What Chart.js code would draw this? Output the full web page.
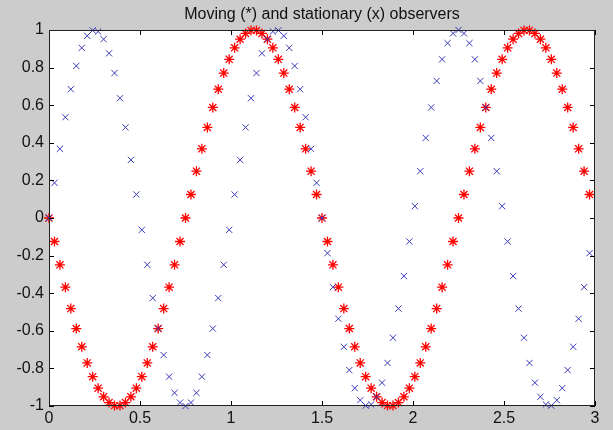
<!DOCTYPE html>
<html><head><meta charset="utf-8">
<script src="https://cdn.jsdelivr.net/npm/chart.js@4.4.0/dist/chart.umd.min.js"></script>
<style>html,body{margin:0;padding:0;background:#cccccc;overflow:hidden}#c{display:block}</style>
</head><body>
<canvas id="c" width="613" height="430"></canvas>
<script>
const times = [
0,0.03,0.06,0.09,0.12,0.15,0.18,0.21,0.24,0.27,
0.3,0.33,0.36,0.39,0.42,0.45,0.48,0.51,0.54,0.57,
0.6,0.63,0.66,0.69,0.72,0.75,0.78,0.81,0.84,0.87,
0.9,0.93,0.96,0.99,1.02,1.05,1.08,1.11,1.14,1.17,
1.2,1.23,1.26,1.29,1.32,1.35,1.38,1.41,1.44,1.47,
1.5,1.53,1.56,1.59,1.62,1.65,1.68,1.71,1.74,1.77,
1.8,1.83,1.86,1.89,1.92,1.95,1.98,2.01,2.04,2.07,
2.1,2.13,2.16,2.19,2.22,2.25,2.28,2.31,2.34,2.37,
2.4,2.43,2.46,2.49,2.52,2.55,2.58,2.61,2.64,2.67,
2.7,2.73,2.76,2.79,2.82,2.85,2.88,2.91,2.94,2.97];

const moving = [
0,-0.125,-0.249,-0.368,-0.482,-0.588,-0.685,-0.771,-0.844,-0.905,
-0.951,-0.982,-0.998,-0.998,-0.982,-0.951,-0.905,-0.844,-0.771,-0.685,
-0.588,-0.482,-0.368,-0.249,-0.125,0,0.125,0.249,0.368,0.482,
0.588,0.685,0.771,0.844,0.905,0.951,0.982,0.998,0.998,0.982,
0.951,0.905,0.844,0.771,0.685,0.588,0.482,0.368,0.249,0.125,
0,-0.125,-0.249,-0.368,-0.482,-0.588,-0.685,-0.771,-0.844,-0.905,
-0.951,-0.982,-0.998,-0.998,-0.982,-0.951,-0.905,-0.844,-0.771,-0.685,
-0.588,-0.482,-0.368,-0.249,-0.125,0,0.125,0.249,0.368,0.482,
0.588,0.685,0.771,0.844,0.905,0.951,0.982,0.998,0.998,0.982,
0.951,0.905,0.844,0.771,0.685,0.588,0.482,0.368,0.249,0.125];

const stationary = [
0,0.187,0.368,0.536,0.685,0.809,0.905,0.969,0.998,0.992,
0.951,0.876,0.771,0.637,0.482,0.309,0.125,-0.063,-0.249,-0.426,
-0.588,-0.729,-0.844,-0.930,-0.982,-1.000,-0.982,-0.930,-0.844,-0.729,
-0.588,-0.426,-0.249,-0.063,0.125,0.309,0.482,0.637,0.771,0.876,
0.951,0.992,0.998,0.969,0.905,0.809,0.685,0.536,0.368,0.187,
0,-0.187,-0.368,-0.536,-0.685,-0.809,-0.905,-0.969,-0.998,-0.992,
-0.951,-0.876,-0.771,-0.637,-0.482,-0.309,-0.125,0.063,0.249,0.426,
0.588,0.729,0.844,0.930,0.982,1.000,0.982,0.930,0.844,0.729,
0.588,0.426,0.249,0.063,-0.125,-0.309,-0.482,-0.637,-0.771,-0.876,
-0.951,-0.992,-0.998,-0.969,-0.905,-0.809,-0.685,-0.536,-0.368,-0.187];

const xTicks = [0,0.5,1,1.5,2,2.5,3];
const yTicks = [-1,-0.8,-0.6,-0.4,-0.2,0,0.2,0.4,0.6,0.8,1];
const titleText = 'Moving (*) and stationary (x) observers';

const frame = {
  id:'frame',
  beforeDraw(chart){
    const c = chart.ctx, a = chart.chartArea;
    c.save();
    c.fillStyle = '#cccccc';
    c.fillRect(0,0,chart.width,chart.height);
    c.fillStyle = '#ffffff';
    c.fillRect(a.left,a.top,a.right-a.left,a.bottom-a.top);
    c.restore();
  },
  afterDatasetsDraw(chart){
    const c = chart.ctx, a = chart.chartArea;
    const xs = chart.scales.x, ys = chart.scales.y;
    const L = 5;
    c.save();
    c.strokeStyle = '#000';
    c.lineWidth = 1;
    c.beginPath();
    xTicks.forEach(v=>{
      const px = Math.round(xs.getPixelForValue(v))+0.5;
      c.moveTo(px,a.bottom); c.lineTo(px,a.bottom-L);
      c.moveTo(px,a.top); c.lineTo(px,a.top+L);
    });
    yTicks.forEach(v=>{
      const py = Math.round(ys.getPixelForValue(v))+0.5;
      c.moveTo(a.left,py); c.lineTo(a.left+L,py);
      c.moveTo(a.right,py); c.lineTo(a.right-L,py);
    });
    c.stroke();
    c.strokeStyle = '#222';
    c.strokeRect(Math.round(a.left)+0.5,Math.round(a.top)+0.5,Math.round(a.right-a.left)-1,Math.round(a.bottom-a.top)-1);
    c.restore();
  }
};

const fontFam = '"Liberation Sans", Arial, Helvetica, sans-serif';
const fmt = v => String(+Number(v).toFixed(2));

new Chart(document.getElementById('c'), {
  type:'scatter',
  data:{
    datasets:[
      {
        label:'stationary',
        data: times.map((t,i)=>({x:t,y:stationary[i]})),
        pointStyle:'crossRot',
        radius:4.4,
        borderColor:'#3a3ab8',
        backgroundColor:'#3a3ab8',
        borderWidth:1,
        clip:false,
        order:1
      },
      {
        label:'moving',
        data: times.map((t,i)=>({x:t,y:moving[i]})),
        pointStyle:'star',
        radius:5,
        borderColor:'#ff0000',
        backgroundColor:'#ff0000',
        borderWidth:1.3,
        clip:false,
        order:2
      }
    ]
  },
  options:{
    responsive:false,
    animation:false,
    devicePixelRatio:1,
    layout:{padding:{top:0,right:18,left:0,bottom:0}},
    plugins:{
      legend:{display:false},
      tooltip:{enabled:false},
      title:{
        display:true,
        text:titleText,
        fullSize:false,
        color:'#111',
        font:{family:fontFam,size:16,weight:'normal',lineHeight:1.2},
        padding:{top:5,bottom:5.8}
      }
    },
    scales:{
      x:{
        type:'linear',min:0,max:3,
        afterBuildTicks(s){ s.ticks = xTicks.map(v=>({value:v})); },
        afterFit(s){ s.height = 24; },
        grid:{display:false,drawTicks:false},
        border:{display:false},
        ticks:{color:'#111',font:{family:fontFam,size:16},padding:3,maxRotation:0,autoSkip:false,callback:fmt}
      },
      y:{
        type:'linear',min:-1,max:1,
        afterBuildTicks(s){ s.ticks = yTicks.map(v=>({value:v})); },
        afterFit(s){ s.width = 49; },
        grid:{display:false,drawTicks:false},
        border:{display:false},
        ticks:{color:'#111',font:{family:fontFam,size:16},padding:5,autoSkip:false,callback:fmt}
      }
    }
  },
  plugins:[frame]
});
</script>
</body></html>
